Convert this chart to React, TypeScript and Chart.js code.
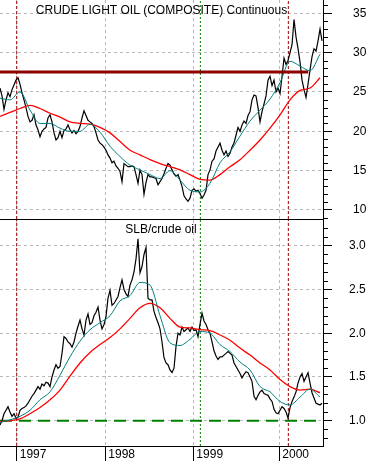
import React, { useEffect, useRef } from "react";
import { Chart, registerables } from "chart.js";

Chart.register(...registerables);

// ---------- time axis (decimal years) ----------
const X_MIN = 1996.809;
const X_MAX = 2000.499;
const SAMPLE_START = 1996.809;
const SAMPLE_STEP = 0.02285; // price / ratio samples (about every 8 days)
const AVG_STEP = 0.11425; // moving-average samples (about every 6 weeks)

const YEAR_TICK_VALUES = [1997.0, 1998.012, 1999.018, 2000.0];
const YEAR_TICK_LABELS = ["1997", "1998", "1999", "2000"];
const EVENT_DATES = [1997.0, 1999.098, 2000.103];

// ---------- crude oil panel ----------
const OIL_TICKS = [10, 15, 20, 25, 30, 35];
const OIL_MIN = 8.856;
const OIL_MAX = 36.69;
const OIL_RESISTANCE = 27.55;
const OIL_RESISTANCE_END = 2000.33;

const OIL_PRICE = [
  25.5, 24.5, 22.8, 24.0, 24.9, 24.4, 25.3, 25.9, 26.5, 26.8,
  26.0, 24.9, 24.0, 23.0, 21.9, 21.2, 21.4, 22.1, 20.8, 20.2,
  19.3, 20.0, 20.3, 20.5, 21.7, 22.1, 21.2, 19.8, 18.9, 19.2,
  20.0, 19.2, 20.1, 20.3, 20.8, 20.2, 19.8, 20.1, 19.7, 20.0,
  20.6, 21.7, 22.6, 22.0, 21.4, 21.2, 21.0, 20.6, 19.8, 18.9,
  18.5, 18.3, 18.0, 17.6, 17.0, 16.6, 16.0, 16.2, 15.6, 15.3,
  14.9, 13.6, 15.9, 15.7, 15.5, 15.5, 15.6, 15.5, 14.5, 13.4,
  15.1, 14.5, 12.0, 13.5, 14.5, 14.2, 14.2, 14.1, 14.0, 13.2,
  13.6, 14.0, 14.6, 15.3, 15.9, 15.7, 15.1, 14.6, 14.3, 14.5,
  13.8, 13.0, 11.8, 11.4, 11.1, 11.5, 12.5, 12.7, 12.4, 12.5,
  12.1, 11.5, 11.9, 12.5, 14.5, 15.1, 16.2, 16.5, 17.5, 18.0,
  18.5, 17.6, 17.0, 17.5, 16.8, 17.2, 18.0, 18.5, 19.5, 20.5,
  20.0, 20.8, 21.3, 21.0, 22.0, 22.5, 24.0, 24.6, 24.5, 23.0,
  21.2, 22.5, 23.5, 24.5, 26.5, 27.0, 25.8, 26.5, 25.0, 25.5,
  24.8, 27.0, 29.3, 28.5, 29.0, 30.0, 31.0, 34.2, 32.0, 30.5,
  28.8, 26.5, 25.3, 24.3, 26.0, 27.8, 29.5, 30.5, 30.2, 31.5,
  33.0, 31.5,
];

const OIL_AVG_SHORT = [
  24.2, 24.0, 25.0, 22.7, 21.0, 21.0, 20.4, 20.0, 20.0, 20.9,
  19.9, 18.1, 16.8, 15.7, 15.1, 14.5, 14.0, 15.0, 13.8, 12.5,
  12.3, 13.4, 16.0, 17.4, 19.4, 21.3, 22.7, 24.1, 26.2, 28.9,
  28.3, 27.7, 29.8,
];

const OIL_AVG_LONG = [
  21.9, 22.4, 22.9, 23.3, 22.9, 22.3, 21.8, 21.2, 21.0, 20.9,
  20.5, 19.8, 18.7, 17.6, 17.0, 16.4, 15.9, 15.5, 15.1, 14.5,
  13.9, 13.8, 14.5, 15.5, 16.4, 17.6, 18.9, 20.4, 22.1, 24.0,
  25.2, 25.5, 26.8,
];

// ---------- SLB / crude oil panel ----------
const RATIO_TICKS = [1.0, 1.5, 2.0, 2.5, 3.0];
const RATIO_MIN = 0.711;
const RATIO_MAX = 3.294;
const RATIO_BASELINE = 1.0;

const RATIO = [
  0.95, 1.0, 1.08, 1.12, 1.16, 1.1, 1.05, 1.08, 1.03, 1.04,
  1.12, 1.14, 1.15, 1.17, 1.2, 1.24, 1.28, 1.31, 1.35, 1.39,
  1.36, 1.42, 1.4, 1.44, 1.43, 1.39, 1.5, 1.58, 1.64, 1.6,
  1.62, 1.77, 1.96, 1.94, 1.9, 1.88, 1.84, 1.9, 2.0, 2.08,
  2.15, 2.05, 1.98, 2.15, 2.22, 2.1, 2.12, 2.2, 2.24, 2.3,
  2.15, 2.05, 2.1, 2.19, 2.4, 2.49, 2.32, 2.34, 2.38, 2.42,
  2.52, 2.61, 2.5, 2.45, 2.42, 2.55, 2.61, 2.7, 2.85, 3.08,
  2.69, 2.76, 2.9, 2.98, 2.4, 2.38, 2.38, 2.25, 2.18, 2.12,
  2.05, 1.9, 1.72, 1.66, 1.64, 1.58, 1.55, 1.6, 1.85, 2.0,
  1.98, 2.07, 2.02, 2.04, 2.06, 2.02, 2.07, 2.03, 2.04, 1.96,
  2.1, 2.23, 2.14, 2.1, 2.04, 2.0, 1.9, 1.8, 1.74, 1.7,
  1.73, 1.73, 1.75, 1.77, 1.79, 1.77, 1.75, 1.66, 1.62, 1.58,
  1.54, 1.49, 1.53, 1.56, 1.55, 1.5, 1.45, 1.28, 1.24, 1.29,
  1.33, 1.35, 1.31, 1.3, 1.29, 1.25, 1.22, 1.13, 1.09, 1.08,
  1.12, 1.16, 1.14, 1.1, 1.03, 1.15, 1.22, 1.27, 1.33, 1.43,
  1.5, 1.54, 1.45, 1.5, 1.55, 1.43, 1.32, 1.26, 1.2, 1.19,
  1.18, 1.2,
];

const RATIO_AVG_SHORT = [
  0.98, 1.01, 1.05, 1.12, 1.24, 1.33, 1.52, 1.73, 1.91, 2.04,
  2.12, 2.2, 2.37, 2.43, 2.58, 2.55, 2.2, 1.89, 1.86, 1.93,
  2.02, 2.0, 1.87, 1.79, 1.67, 1.58, 1.39, 1.33, 1.22, 1.18,
  1.27, 1.36, 1.27,
];

const RATIO_AVG_LONG = [
  0.99, 1.0, 1.02, 1.08, 1.15, 1.24, 1.35, 1.51, 1.66, 1.78,
  1.87, 1.95, 2.05, 2.17, 2.29, 2.34, 2.29, 2.17, 2.07, 2.06,
  2.04, 2.03, 1.98, 1.92, 1.83, 1.75, 1.66, 1.58, 1.47, 1.39,
  1.35, 1.36, 1.32,
];

// ---------- styling ----------
const FONT_FAMILY = "'Liberation Sans', Arial, sans-serif";
const GRID_COLOR = "#b9b9b9";
const EVENT_STYLES = [
  { color: "#9a0000", dash: [3, 2] },
  { color: "#008000", dash: [2, 2] },
  { color: "#9a0000", dash: [3, 2] },
];

const toPoints = (vals: number[], start: number, step: number) =>
  vals.map((v, i) => ({ x: start + i * step, y: v }));

const lineDs = (data: any[], color: string, width: number, extra: any = {}) => ({
  type: "line",
  data,
  borderColor: color,
  backgroundColor: color,
  borderWidth: width,
  pointRadius: 0,
  pointHoverRadius: 0,
  fill: false,
  tension: 0,
  ...extra,
});

const eventDatasets = (yMin: number, yMax: number) =>
  EVENT_DATES.map((d, i) =>
    lineDs(
      [
        { x: d, y: yMin },
        { x: d, y: yMax },
      ],
      EVENT_STYLES[i].color,
      1,
      { borderDash: EVENT_STYLES[i].dash }
    )
  );

const panelTextPlugin = {
  id: "panelText",
  afterDraw(chart: any, _args: any, opts: any) {
    const ctx = chart.ctx;
    ctx.save();
    ctx.font = `12px ${FONT_FAMILY}`;
    ctx.fillStyle = "#000";
    ctx.textAlign = "center";
    ctx.textBaseline = "alphabetic";
    ctx.fillText(opts.text, opts.x, opts.y);
    ctx.restore();
  },
};

const minorTickPlugin = {
  id: "minorTicks",
  afterDraw(chart: any, _args: any, opts: any) {
    const s = chart.scales.y;
    const ctx = chart.ctx;
    ctx.save();
    ctx.strokeStyle = "#000";
    ctx.lineWidth = 1;
    ctx.beginPath();
    const k0 = Math.ceil(s.min / opts.step - 1e-9);
    const k1 = Math.floor(s.max / opts.step + 1e-9);
    for (let k = k0; k <= k1; k++) {
      if (k % opts.every === 0) continue;
      const y = Math.round(s.getPixelForValue(k * opts.step)) + 0.5;
      ctx.moveTo(s.left, y);
      ctx.lineTo(s.left + opts.length, y);
    }
    ctx.stroke();
    ctx.restore();
  },
};

function zeroPadding(s: any) {
  s.paddingTop = 0;
  s.paddingBottom = 0;
  s.paddingLeft = 0;
  s.paddingRight = 0;
}

function makeConfig(p: {
  datasets: any[];
  yMin: number;
  yMax: number;
  yTicks: number[];
  decimals: number;
  labelPadding: number;
  showXLabels: boolean;
  title: { text: string; x: number; y: number };
  minor: { step: number; every: number; length: number };
}): any {
  return {
    type: "line",
    data: { datasets: p.datasets },
    plugins: [panelTextPlugin, minorTickPlugin],
    options: {
      animation: false,
      responsive: false,
      maintainAspectRatio: false,
      events: [],
      layout: { padding: 0 },
      plugins: {
        legend: { display: false },
        tooltip: { enabled: false },
        title: { display: false },
        panelText: p.title,
        minorTicks: p.minor,
      },
      scales: {
        x: {
          type: "linear",
          position: "bottom",
          min: X_MIN,
          max: X_MAX,
          afterBuildTicks: (s: any) => {
            s.ticks = YEAR_TICK_VALUES.map((v) => ({ value: v }));
          },
          afterFit: (s: any) => {
            s.height = p.showXLabels ? 15 : 1;
            zeroPadding(s);
          },
          grid: {
            color: GRID_COLOR,
            lineWidth: 1,
            drawTicks: p.showXLabels,
            tickLength: 15,
            tickColor: "#000",
            tickBorderDash: [],
          },
          border: { display: true, color: "#000", width: 1, dash: [3, 3] },
          ticks: {
            display: p.showXLabels,
            autoSkip: false,
            maxRotation: 0,
            minRotation: 0,
            align: "start",
            labelOffset: 3,
            padding: -14,
            color: "#000",
            font: { family: FONT_FAMILY, size: 12 },
            callback: (_v: any, i: number) => YEAR_TICK_LABELS[i],
          },
        },
        y: {
          type: "linear",
          position: "right",
          min: p.yMin,
          max: p.yMax,
          afterBuildTicks: (s: any) => {
            s.ticks = p.yTicks.map((v) => ({ value: v }));
          },
          afterFit: (s: any) => {
            s.width = 48;
            zeroPadding(s);
          },
          grid: {
            color: GRID_COLOR,
            lineWidth: 1,
            drawTicks: true,
            tickLength: 9,
            tickColor: "#000",
            tickBorderDash: [],
          },
          border: { display: true, color: "#000", width: 1, dash: [3, 3] },
          ticks: {
            crossAlign: "near",
            padding: p.labelPadding,
            color: "#000",
            font: { family: FONT_FAMILY, size: 12 },
            callback: (v: any) => Number(v).toFixed(p.decimals),
          },
        },
      },
    },
  };
}

export default function App() {
  const topRef = useRef<HTMLCanvasElement>(null);
  const botRef = useRef<HTMLCanvasElement>(null);

  useEffect(() => {
    const topDatasets = [
      lineDs(
        [
          { x: X_MIN, y: OIL_RESISTANCE },
          { x: OIL_RESISTANCE_END, y: OIL_RESISTANCE },
        ],
        "#8e0000",
        3
      ),
      lineDs(toPoints(OIL_AVG_SHORT, SAMPLE_START, AVG_STEP), "#008080", 1, {
        cubicInterpolationMode: "monotone",
      }),
      lineDs(toPoints(OIL_AVG_LONG, SAMPLE_START, AVG_STEP), "#ff0000", 1.3, {
        cubicInterpolationMode: "monotone",
      }),
      lineDs(toPoints(OIL_PRICE, SAMPLE_START, SAMPLE_STEP), "#000000", 1.2),
      ...eventDatasets(OIL_MIN, OIL_MAX),
    ];

    const botDatasets = [
      lineDs(toPoints(RATIO_AVG_SHORT, SAMPLE_START, AVG_STEP), "#008080", 1, {
        cubicInterpolationMode: "monotone",
      }),
      lineDs(toPoints(RATIO_AVG_LONG, SAMPLE_START, AVG_STEP), "#ff0000", 1.3, {
        cubicInterpolationMode: "monotone",
      }),
      lineDs(toPoints(RATIO, SAMPLE_START, SAMPLE_STEP), "#000000", 1.2),
      lineDs(
        [
          { x: X_MIN, y: RATIO_BASELINE },
          { x: X_MAX, y: RATIO_BASELINE },
        ],
        "#008000",
        2,
        { borderDash: [12, 7] }
      ),
      ...eventDatasets(RATIO_MIN, RATIO_MAX),
    ];

    const top = new Chart(
      topRef.current as HTMLCanvasElement,
      makeConfig({
        datasets: topDatasets,
        yMin: OIL_MIN,
        yMax: OIL_MAX,
        yTicks: OIL_TICKS,
        decimals: 0,
        labelPadding: 21,
        showXLabels: false,
        title: { text: "CRUDE LIGHT OIL (COMPOSITE) Continuous", x: 161.5, y: 14 },
        minor: { step: 1, every: 5, length: 5 },
      })
    );
    const bot = new Chart(
      botRef.current as HTMLCanvasElement,
      makeConfig({
        datasets: botDatasets,
        yMin: RATIO_MIN,
        yMax: RATIO_MAX,
        yTicks: RATIO_TICKS,
        decimals: 1,
        labelPadding: 17,
        showXLabels: true,
        title: { text: "SLB/crude oil", x: 161, y: 13 },
        minor: { step: 0.1, every: 5, length: 5 },
      })
    );
    return () => {
      top.destroy();
      bot.destroy();
    };
  }, []);

  return (
    <div
      style={{
        position: "fixed",
        left: 0,
        top: 0,
        width: 371,
        height: 461,
        background: "#ffffff",
        overflow: "hidden",
      }}
    >
      <canvas
        ref={topRef}
        width={371}
        height={220}
        style={{ position: "absolute", left: 0, top: 0, width: 371, height: 220 }}
      />
      <canvas
        ref={botRef}
        width={371}
        height={241}
        style={{ position: "absolute", left: 0, top: 220, width: 371, height: 241 }}
      />
    </div>
  );
}
